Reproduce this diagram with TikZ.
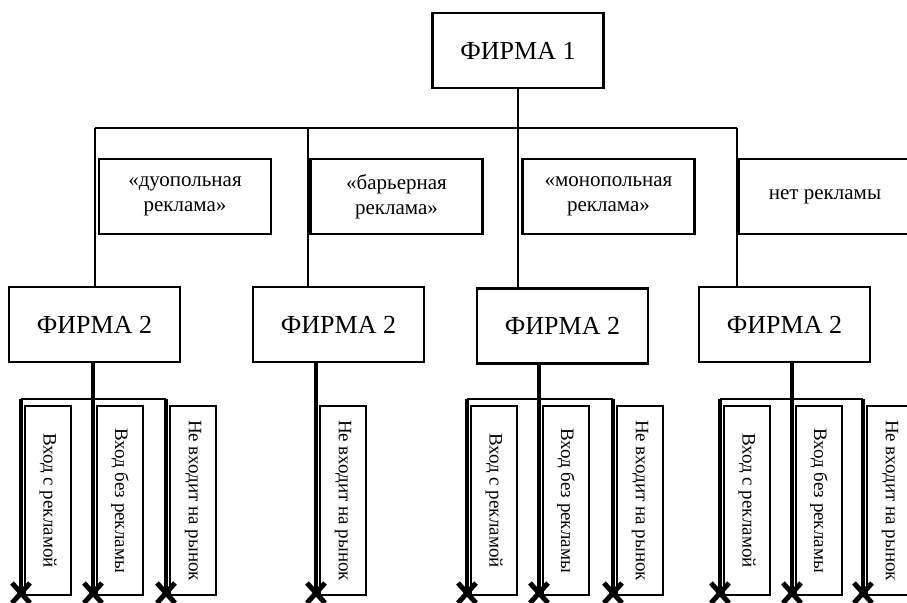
\documentclass[tikz,border=0pt]{standalone}
\usepackage{fontspec}
\setmainfont{Liberation Serif}
\usetikzlibrary{calc,positioning}
\tikzset{
  box/.style={draw,line width=2.5pt,minimum width=171pt,minimum height=75pt,inner sep=0pt,align=center,font=\fontsize{26}{30}\selectfont},
  lbl/.style={draw,line width=2.5pt,minimum width=172pt,minimum height=75pt,inner sep=0pt,align=center,font=\fontsize{21}{25}\selectfont},
  leaf/.style={draw,line width=2.5pt,minimum width=189pt,minimum height=46pt,inner sep=0pt,rotate=-90,font=\fontsize{19}{22}\selectfont},
  ln/.style={line width=2.5pt},
  thk/.style={line width=4.5pt}
}
\begin{document}
\begin{tikzpicture}[x=1pt,y=-1pt]
\useasboundingbox (0,0) rectangle (907,602);
% first level
\node[box] (f1) at (518,50.5) {ФИРМА 1};
\coordinate (t1) at (95,128);
\coordinate (t2) at (308,128);
\coordinate (t3) at (518,128);
\coordinate (t4) at (737,128);
\draw[ln] (f1) -- (t3);
\draw[ln] (t1) -- (t4);
\node[lbl] (l1) at (185,196.5) {«дуопольная\\реклама»};
\node[lbl] (l2) at (396.5,196.5) {«барьерная\\реклама»};
\node[lbl] (l3) at (608.5,196.5) {«монопольная\\реклама»};
\node[lbl] (l4) at (825,196.5) {нет рекламы};
% second level
\node[box] (fa) at (94.5,324.5) {ФИРМА 2};
\node[box] (fb) at (338.5,324.5) {ФИРМА 2};
\node[box] (fc) at (562.5,326) {ФИРМА 2};
\node[box] (fd) at (784.5,324.5) {ФИРМА 2};
\draw[ln] (t1) -- (t1 |- fa.north);
\draw[ln] (t2) -- (t2 |- fb.north);
\draw[ln] (t3) -- (t3 |- fc.north);
\draw[ln] (t4) -- (t4 |- fd.north);
% choices of firm 2
\foreach \g/\s/\a/\b/\xs in {fa/93/21/166/{21/Вход с рекламой,93/Вход без рекламы,166/Не входит на рынок},
                             fb/316/316/316/{316/Не входит на рынок},
                             fc/539/467/613/{467/Вход с рекламой,539/Вход без рекламы,613/Не входит на рынок},
                             fd/792/720/863/{720/Вход с рекламой,792/Вход без рекламы,863/Не входит на рынок}}{
  \coordinate (\g-top) at (\s,0);
  \coordinate (\g-bus) at (\s,399);
  \draw[thk] (\g.south -| \g-top) -- (\g-bus);
  \draw[ln] (\a,399) -- (\b,399);
  \foreach \x/\t in \xs{
    \coordinate (\g-\x) at (\x,399);
    \coordinate (\g-\x-end) at (\x,592);
    \draw[thk] (\g-\x) -- (\g-\x-end);
    \draw[line width=5pt] (\x-9,583) -- (\x+9,603) (\x+9,583) -- (\x-9,603);
    \node[leaf] (\g-\x-box) at (\x+27,500.5) {\t};
  }
}
\end{tikzpicture}
\end{document}
